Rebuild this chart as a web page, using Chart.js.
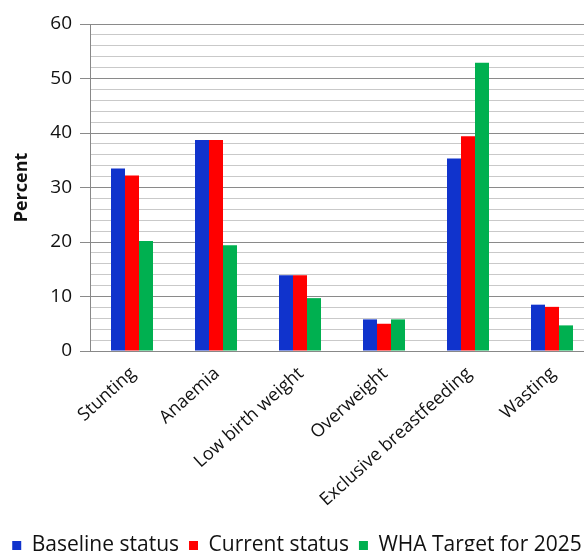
<!DOCTYPE html>
<html>
<head>
<meta charset="utf-8">
<script src="https://cdn.jsdelivr.net/npm/chart.js@4"></script>
<style>
html,body{margin:0;padding:0;background:#fff;overflow:hidden;}
#wrap{width:600px;height:566px;position:relative;}
</style>
</head>
<body>
<div id="wrap"><canvas id="c"></canvas></div>
<script>
const categories = ["Stunting","Anaemia","Low birth weight","Overweight","Exclusive breastfeeding","Wasting"];
const baselineStatus = [33.5, 38.7, 13.9, 5.8, 35.3, 8.5];
const currentStatus = [32.2, 38.7, 13.9, 5.0, 39.4, 8.1];
const whaTarget2025 = [20.2, 19.4, 9.7, 5.8, 52.9, 4.7];
const seriesNames = ["Baseline status","Current status","WHA Target for 2025"];
const yMin = 0, yMax = 60, yStep = 2, yLabelStep = 10;

const FONT = "'Open Sans', 'Liberation Sans', sans-serif";
new Chart(document.getElementById('c'), {
  type: 'bar',
  data: {
    labels: categories,
    datasets: [
      {label: seriesNames[0], data: baselineStatus, backgroundColor: '#1033CC'},
      {label: seriesNames[1], data: currentStatus, backgroundColor: '#FF0000'},
      {label: seriesNames[2], data: whaTarget2025, backgroundColor: '#00B050'}
    ]
  },
  options: {
    responsive: true,
    maintainAspectRatio: false,
    animation: false,
    devicePixelRatio: 1,
    layout: {padding: {top: 24, right: 6, left: 0, bottom: 0}},
    datasets: {bar: {categoryPercentage: 0.5, barPercentage: 1.0}},
    plugins: {
      tooltip: {enabled: false},
      legend: {
        position: 'bottom',
        labels: {
          font: {family: FONT, size: 21},
          color: '#111',
          boxWidth: 9,
          boxHeight: 9,
          padding: 10
        }
      }
    },
    scales: {
      x: {
        grid: {display: false},
        border: {display: true, color: '#888', width: 1},
        ticks: {
          font: {family: FONT, size: 18},
          color: '#111',
          minRotation: 42,
          maxRotation: 42,
          autoSkip: false,
          padding: 4,
          labelOffset: 1
        },
        afterFit: (s) => { s.height = 174; }
      },
      y: {
        min: yMin, max: yMax,
        afterFit: (s) => { s.width = 90; },
        border: {display: true, color: '#888', width: 1},
        grid: {
          color: (ctx) => (ctx.tick && ctx.tick.value % yLabelStep === 0) ? '#8a8a8a' : '#c9c9c9',
          tickColor: (ctx) => (ctx.tick && ctx.tick.value % yLabelStep === 0) ? '#8a8a8a' : 'rgba(0,0,0,0)',
          tickLength: 10,
          lineWidth: 1
        },
        ticks: {
          stepSize: yStep,
          autoSkip: false,
          font: {family: FONT, size: 19},
          color: '#111',
          padding: 8,
          callback: (v) => (v % yLabelStep === 0) ? v : ''
        },
        title: {
          display: true,
          text: 'Percent',
          font: {family: FONT, size: 18, weight: 'bold'},
          color: '#111',
          padding: {top: 11, bottom: 0}
        }
      }
    }
  }
});
</script>
</body>
</html>
